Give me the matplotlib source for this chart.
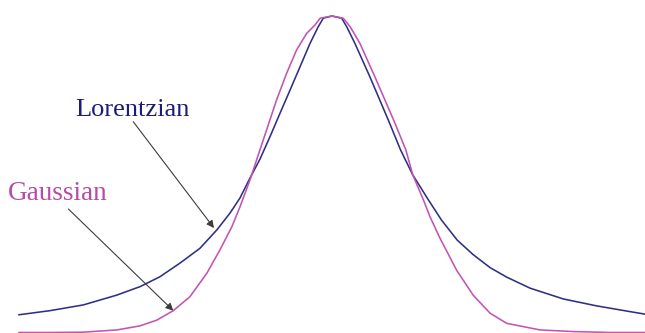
import matplotlib
matplotlib.use("Agg")
import matplotlib.pyplot as plt

# Profiles: offset from line centre and normalised height
lorentz_x = [-10.00, -9.01, -7.95, -6.88, -6.13, -5.50, -4.86, -4.22, -3.68, -3.26,
             -2.94, -2.62, -2.30, -1.98, -1.66, -1.34, -1.02, -0.70, -0.44, -0.28,
             0.00, 0.31, 0.47, 0.73, 1.21, 1.80, 2.19, 2.58, 3.08, 3.50,
             4.00, 4.51, 5.05, 5.58, 6.33, 7.39, 8.46, 9.52, 10.00]
lorentz_y = [0.056, 0.069, 0.087, 0.118, 0.145, 0.176, 0.219, 0.266, 0.324, 0.377,
             0.425, 0.488, 0.548, 0.619, 0.693, 0.766, 0.840, 0.914, 0.966, 0.993,
             1.000, 0.993, 0.966, 0.914, 0.808, 0.671, 0.577, 0.498, 0.419, 0.355,
             0.292, 0.246, 0.205, 0.175, 0.140, 0.106, 0.084, 0.066, 0.058]

gauss_x = [-10.00, -9.01, -7.95, -6.88, -6.13, -5.60, -5.07, -4.54, -4.00, -3.58,
           -3.20, -2.94, -2.62, -2.41, -2.09, -1.77, -1.45, -1.13, -0.81, -0.54,
           -0.38, 0.00, 0.36, 0.58, 0.89, 1.37, 1.97, 2.36, 2.58, 2.92,
           3.13, 3.45, 3.98, 4.51, 5.05, 5.58, 6.65, 7.70, 8.88, 10.00]
gauss_y = [0.000, 0.000, 0.001, 0.008, 0.021, 0.039, 0.069, 0.113, 0.187, 0.261,
           0.334, 0.397, 0.482, 0.545, 0.640, 0.735, 0.819, 0.893, 0.945, 0.972,
           0.993, 1.000, 0.993, 0.966, 0.914, 0.808, 0.671, 0.577, 0.498, 0.419,
           0.366, 0.298, 0.197, 0.118, 0.061, 0.029, 0.008, 0.003, 0.000, 0.000]

labels = ["Lorentzian", "Gaussian"]
LORENTZ_COLOR = "#2e3083"
GAUSS_COLOR = "#c254b3"


def main():
    fig = plt.figure(figsize=(6.45, 3.33), dpi=100)
    ax = fig.add_axes([0, 0, 1, 1])

    ax.plot(lorentz_x, lorentz_y, color=LORENTZ_COLOR, lw=1.15)
    ax.plot(gauss_x, gauss_y, color=GAUSS_COLOR, lw=1.15)

    arrow = dict(arrowstyle="-|>", color="#3c3c3c", lw=0.8,
                 mutation_scale=11, shrinkA=0, shrinkB=0)

    # curve labels with pointer arrows
    ax.text(-8.21, 0.685, labels[0], color="#1b1b7c", fontsize=19,
            family="Liberation Serif", ha="left", va="baseline")
    ax.annotate("", xy=(-3.77, 0.330), xytext=(-6.35, 0.666), arrowprops=arrow)

    ax.text(-10.35, 0.419, labels[1], color="#b64ca8", fontsize=19.5,
            family="Liberation Serif", ha="left", va="baseline")
    ax.annotate("", xy=(-5.07, 0.069), xytext=(-8.42, 0.390), arrowprops=arrow)

    ax.set_xlim(-10.607, 10.0)
    ax.set_ylim(-0.0016, 1.0506)
    ax.axis("off")

    fig.savefig("out.png", dpi=100)
    plt.close(fig)


if __name__ == "__main__":
    main()
